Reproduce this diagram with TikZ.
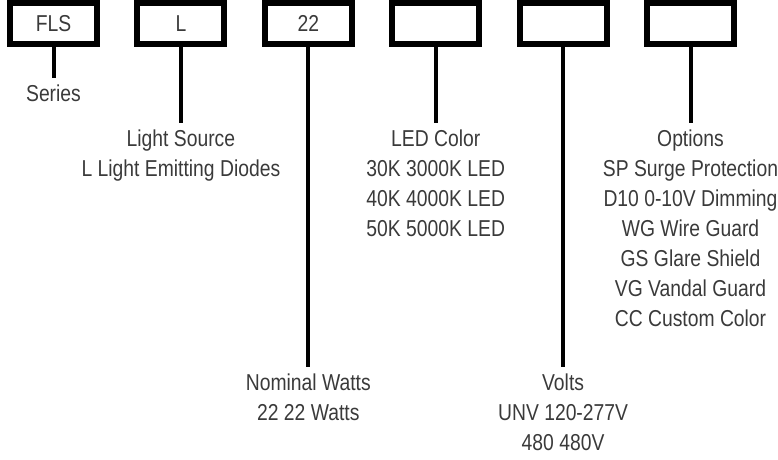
\documentclass[tikz,border=0pt]{standalone}
\usepackage{fontspec}
\setmainfont{Liberation Sans}[FakeStretch=0.84]
\usetikzlibrary{positioning, calc}
\usepackage{xcolor}
\definecolor{inkgray}{HTML}{3A3A3A}

\begin{document}
\begin{tikzpicture}[x=1pt, y=-1pt,
  code/.style={rectangle, draw, line width=6pt, minimum width=87pt,
    minimum height=41pt, inner sep=0pt, font=\fontsize{23}{30.5}\selectfont, text=inkgray},
  desc/.style={anchor=north, align=center, inner sep=6.5pt, outer sep=0pt,
    font=\fontsize{23}{30}\selectfont, text=inkgray},
  lead/.style={line width=4pt},
]
  \useasboundingbox (0,0) rectangle (778,459);

  \node[code] (b1) at (53.5,23.5) {FLS};
  \node[code] (b2) at (180.9,23.5) {L};
  \node[code] (b3) at (308.3,23.5) {22};
  \node[code] (b4) at (435.7,23.5) {};
  \node[code] (b5) at (563.1,23.5) {};
  \node[code] (b6) at (690.5,23.5) {};

  \node[desc] (d1) at (53.5,78) {Series};
  \node[desc] (d2) at (180.9,123) {Light Source\\L Light Emitting Diodes};
  \node[desc] (d3) at (308.3,367) {Nominal Watts\\22 22 Watts};
  \node[desc] (d4) at (435.7,123) {LED Color\\30K 3000K LED\\40K 4000K LED\\50K 5000K LED};
  \node[desc] (d5) at (563.1,367) {Volts\\UNV 120-277V\\480 480V};
  \node[desc] (d6) at (690.5,123) {
    Options\\SP Surge Protection\\D10 0-10V Dimming\\WG Wire Guard\\
    GS Glare Shield\\VG Vandal Guard\\CC Custom Color
  };

  \foreach \i in {1,...,6}
    \draw[lead] (b\i.south) -- (d\i.north);
\end{tikzpicture}
\end{document}
